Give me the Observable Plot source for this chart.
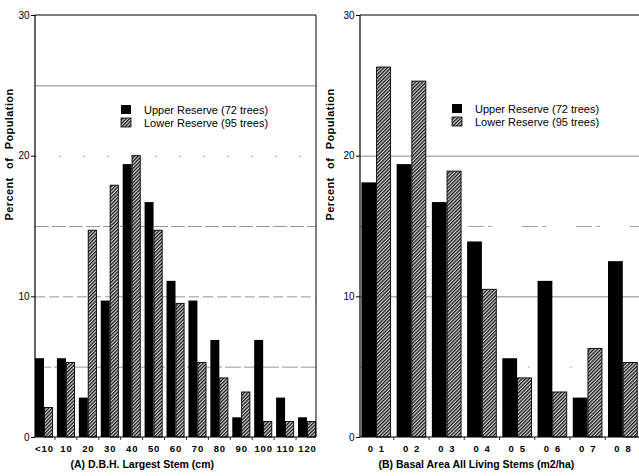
<!DOCTYPE html>
<html><head><meta charset="utf-8">
<script src="https://cdn.jsdelivr.net/npm/d3@7"></script>
<script src="https://cdn.jsdelivr.net/npm/@observablehq/plot@0.6"></script>
<style>
body{margin:0;background:#fff;}
#wrap{display:flex;width:639px;height:476px;overflow:hidden;}
svg{font-family:"Liberation Sans",Arial,Helvetica,sans-serif;background:#fff;}
</style></head><body><div id="wrap"></div>
<script>
const seriesNames = ["Upper Reserve (72 trees)", "Lower Reserve (95 trees)"];
const yLabel = "Percent of Population";
const yTicks = [0, 10, 20, 30];

const dbhCategories = ["<10","10","20","30","40","50","60","70","80","90","100","110","120"];
const dbhUpper = [5.6, 5.6, 2.8, 9.7, 19.4, 16.7, 11.1, 9.7, 6.9, 1.4, 6.9, 2.8, 1.4];
const dbhLower = [2.1, 5.3, 14.7, 17.9, 20.0, 14.7, 9.5, 5.3, 4.2, 3.2, 1.1, 1.1, 1.1];
const dbhTitle = "(A) D.B.H. Largest Stem (cm)";

const basalCategories = ["0 1","0 2","0 3","0 4","0 5","0 6","0 7","0 8"];
const basalUpper = [18.1, 19.4, 16.7, 13.9, 5.6, 11.1, 2.8, 12.5];
const basalLower = [26.3, 25.3, 18.9, 10.5, 4.2, 3.2, 6.3, 5.3];
const basalTitle = "(B) Basal Area All Living Stems (m2/ha)";

function panel(o) {
  const {cats, upper, lower, width, height, ml, mr, mt, mb, pad, padOuter, pid, title, titleDx, legendX, legendY, grid, rightFrame, ylabDx, tickSpacing} = o;
  const data = cats.map((c, i) => ({cat: c, upper: upper[i], lower: lower[i]}));
  const W = width - ml - mr;
  const step = W / (cats.length - pad + 2 * padOuter);
  const bw = step * (1 - pad);

  const decor = (index, scales, values, dims) => {
    const g = d3.create("svg:g");
    const p = g.append("defs").append("pattern")
      .attr("id", pid).attr("patternUnits", "userSpaceOnUse")
      .attr("width", 2.5).attr("height", 2.5)
      .attr("patternTransform", "rotate(45)");
    p.append("rect").attr("width", 2.5).attr("height", 2.5).attr("fill", "#d4d4d4");
    p.append("line").attr("x1", 0.6).attr("y1", 0).attr("x2", 0.6).attr("y2", 2.5)
      .attr("stroke", "#111").attr("stroke-width", 1.3);
    const x0 = dims.marginLeft, x1 = dims.width - dims.marginRight;
    const y0 = dims.marginTop, y1 = dims.height - dims.marginBottom;
    const fr = g.append("g").attr("stroke", "#000").attr("fill", "none");
    fr.append("line").attr("x1", x0).attr("x2", x0).attr("y1", y0).attr("y2", y1).attr("stroke-width", 1.2);
    fr.append("line").attr("x1", x0).attr("x2", x1).attr("y1", y1).attr("y2", y1).attr("stroke-width", 1.2);
    fr.append("line").attr("x1", x0).attr("x2", x1).attr("y1", y0).attr("y2", y0).attr("stroke-width", 1);
    if (rightFrame) fr.append("line").attr("x1", x1).attr("x2", x1).attr("y1", y0).attr("y2", y1).attr("stroke-width", 1);
    for (let i = 1; i < cats.length; i++) {
      const xb = x0 + step * padOuter + i * step - (step - bw) / 2;
      fr.append("line").attr("x1", xb).attr("x2", xb).attr("y1", y1).attr("y2", y1 + 3).attr("stroke-width", 0.8);
    }
    const lg = g.append("g").attr("font-size", 11).attr("fill", "#000").attr("text-anchor", "start");
    seriesNames.forEach((name, i) => {
      lg.append("rect").attr("x", legendX).attr("y", legendY + i * 13)
        .attr("width", 10).attr("height", 9)
        .attr("fill", i === 0 ? "#000" : `url(#${pid})`)
        .attr("stroke", "#000").attr("stroke-width", i === 0 ? 0 : 0.8);
      lg.append("text").attr("x", legendX + 23).attr("y", legendY + i * 13 + 8.5)
        .attr("text-anchor", "start").text(name);
    });
    return g.node();
  };

  const gridMarks = grid.map(([v, dash, op]) =>
    Plot.ruleY([v], {stroke: "#444", strokeWidth: 0.7, strokeDasharray: dash, strokeOpacity: op}));

  const svg = Plot.plot({
    width, height,
    marginLeft: ml, marginRight: mr, marginTop: mt, marginBottom: mb,
    x: {domain: cats, paddingInner: pad, paddingOuter: padOuter, round: false},
    y: {domain: [0, 30]},
    style: {fontFamily: '"Liberation Sans", Arial, sans-serif', background: "#fff", overflow: "visible"},
    marks: [
      ...gridMarks,
      Plot.barY(data, {x: "cat", y: "upper", fill: "#000", insetRight: bw / 2}),
      Plot.barY(data, {x: "cat", y: "lower", fill: `url(#${pid})`, stroke: "#000", strokeWidth: 0.9, insetLeft: bw / 2 + 0.4, insetRight: 0.4}),
      decor,
      Plot.axisY({ticks: yTicks, tickSize: 4, tickPadding: 2, fontSize: 10, label: null}),
      Plot.axisX({tickSize: 0, tickPadding: 8, fontSize: 9.5, fontWeight: "bold", label: null}),
      Plot.text([yLabel], {frameAnchor: "left", rotate: -90, dx: ylabDx, dy: -6, fontWeight: "bold", fontSize: 11}),
      Plot.text([title], {frameAnchor: "bottom-left", textAnchor: "start", dx: titleDx, dy: 30, fontWeight: "bold", fontSize: 10.5})
    ]
  });
  d3.select(svg).selectAll('g[aria-label="x-axis tick label"] text').attr("letter-spacing", tickSpacing);
  d3.select(svg).selectAll("text").filter(function() { return this.textContent === yLabel; })
    .attr("word-spacing", "5px").attr("letter-spacing", "0.4px");
  return svg;
}

const wrap = document.getElementById("wrap");
wrap.append(panel({
  cats: dbhCategories, upper: dbhUpper, lower: dbhLower,
  width: 320, height: 476, ml: 35, mr: 4, mt: 15, mb: 39,
  pad: 0.18, padOuter: 0, pid: "hatchA", title: dbhTitle, titleDx: 35,
  legendX: 121, legendY: 105, rightFrame: true, ylabDx: -26, tickSpacing: "0.9px",
  grid: [[25, null, 0.9], [20, "2,22", 0.8], [15, "14,3", 0.8], [10, "10,4", 0.8], [5, "16,3", 0.8]]
}));
wrap.append(panel({
  cats: basalCategories, upper: basalUpper, lower: basalLower,
  width: 319, height: 476, ml: 40, mr: 0, mt: 15, mb: 39,
  pad: 0.16, padOuter: 0.04, pid: "hatchB", title: basalTitle, titleDx: 18,
  legendX: 132, legendY: 104, rightFrame: false, ylabDx: -30, tickSpacing: "1.6px",
  grid: [[20, null, 0.9], [15, "16,4,4,30", 0.7], [10, null, 0.9], [5, "2,40", 0.6]]
}));
</script>
</body></html>
